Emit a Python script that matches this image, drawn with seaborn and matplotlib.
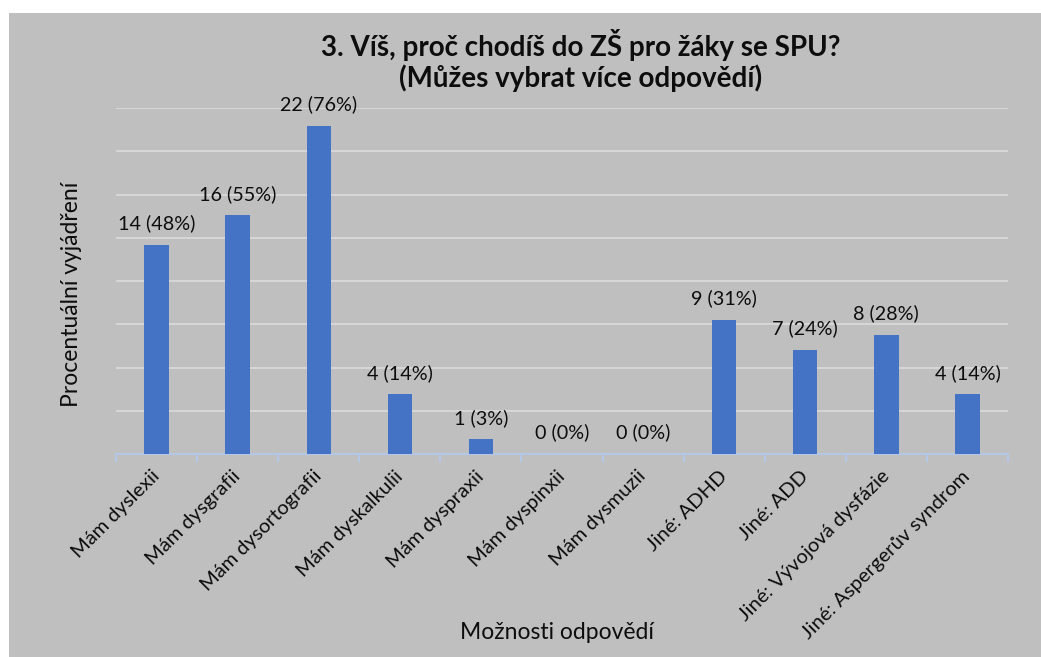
import matplotlib
matplotlib.use("Agg")
import matplotlib.pyplot as plt
import matplotlib.patches as mpatches
import seaborn as sns
import pandas as pd
import numpy as np

# data
categories = ['Mám dyslexii', 'Mám dysgrafii', 'Mám dysortografii', 'Mám dyskalkulii',
              'Mám dyspraxii', 'Mám dyspinxii', 'Mám dysmuzii', 'Jiné: ADHD',
              'Jiné: ADD', 'Jiné: Vývojová dysfázie', 'Jiné: Aspergerův syndrom']
counts = [14, 16, 22, 4, 1, 0, 0, 9, 7, 8, 4]
percents = [48, 55, 76, 14, 3, 0, 0, 31, 24, 28, 14]
percents_exact = [48.3, 55.2, 75.9, 13.8, 3.4, 0, 0, 31.0, 24.1, 27.6, 13.8]

df = pd.DataFrame({'moznost': categories, 'procenta': percents_exact})

sns.set_style('white')
plt.rcParams['font.family'] = ['Lato', 'DejaVu Sans']

bg = '#bfbfbf'
txt = '#0d0d0d'
fig = plt.figure(figsize=(10.41, 6.57), dpi=100, facecolor='white')
# gray chart area (white strip on top and left like the screenshot)
fig.patches.append(mpatches.Rectangle((9 / 1041, 0), 1, 1 - 13 / 657,
                                      transform=fig.transFigure, facecolor=bg,
                                      edgecolor='none', zorder=-10))

ax = fig.add_axes([116 / 1041, 1 - 454 / 657, (1008 - 116) / 1041, (454 - 108) / 657])
ax.set_facecolor(bg)

sns.barplot(data=df, x='moznost', y='procenta', color='#4472c4', width=0.3,
            saturation=1, linewidth=0, ax=ax, zorder=3)

ax.set_ylim(0, 80)
ax.set_xlim(-0.5, len(categories) - 0.5)
ax.set_yticks(np.arange(10, 81, 10))
ax.yaxis.grid(True, color='#d9d9d9', linewidth=1.3, zorder=0)
ax.set_yticklabels([])
ax.tick_params(axis='y', length=0)

for s in ['top', 'right', 'left']:
    ax.spines[s].set_visible(False)
ax.spines['bottom'].set_color('#b4c7e7')
ax.spines['bottom'].set_linewidth(1.5)

# ticks at category boundaries
ax.set_xticks(np.arange(-0.5, len(categories), 1), minor=True)
ax.tick_params(axis='x', which='minor', bottom=True, direction='out', length=6,
               color='#b4c7e7', width=1.5)
ax.tick_params(axis='x', which='major', length=0, pad=14)
ax.set_xticks(range(len(categories)))
ax.set_xticklabels(categories, rotation=45, ha='right', va='center',
                   rotation_mode='anchor', fontsize=14.5, color=txt)

for bar, c, p in zip(ax.patches, counts, percents):
    ax.annotate(f'{c} ({p}%)', (bar.get_x() + bar.get_width() / 2, bar.get_height()),
                xytext=(0, 9), textcoords='offset points', ha='center', va='bottom',
                fontsize=14.2, color=txt)

ax.set_xlabel('Možnosti odpovědí', fontsize=16.5, color=txt)
ax.set_ylabel('Procentuální vyjádření', fontsize=16.5, color=txt)
ax.xaxis.set_label_coords(0.494, -0.485)
ax.yaxis.set_label_coords(-0.038, 0.46)

fig.text(581 / 1041, 1 - 45 / 657, '3. Víš, proč chodíš do ZŠ pro žáky se SPU?',
         ha='center', va='center', fontsize=20, fontweight='bold', color=txt)
fig.text(581 / 1041, 1 - 78 / 657, '(Můžes vybrat více odpovědí)',
         ha='center', va='center', fontsize=20, fontweight='bold', color=txt)

fig.savefig('out.png', dpi=100, facecolor='white')
